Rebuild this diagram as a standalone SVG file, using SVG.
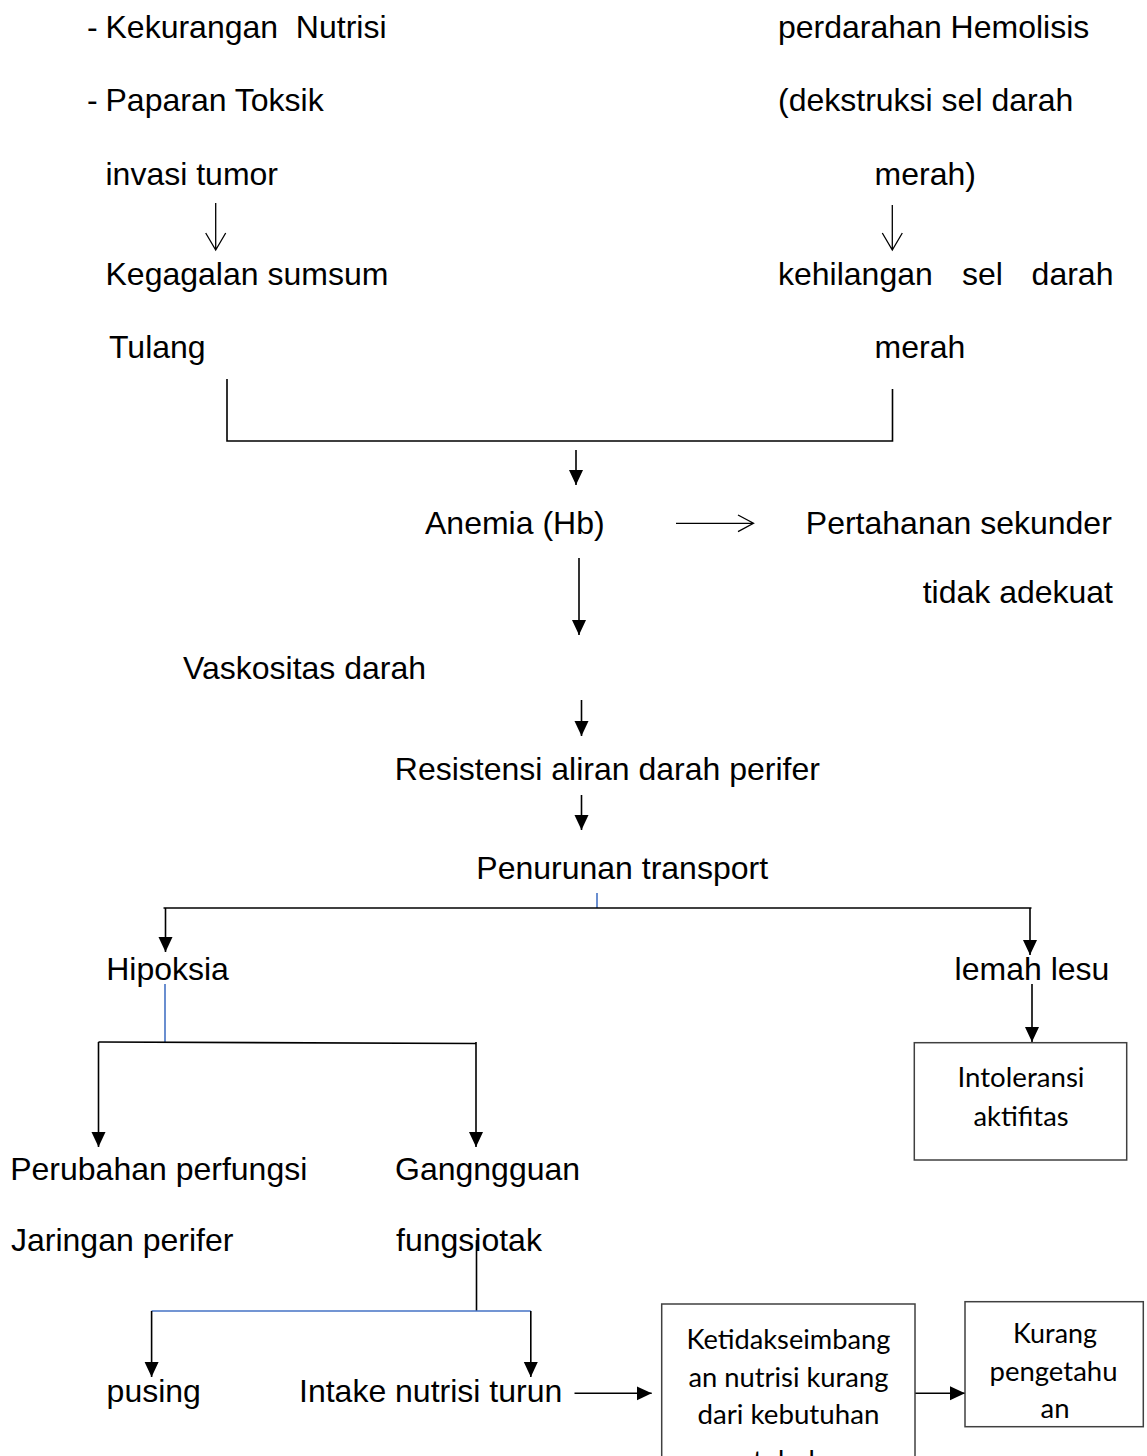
<svg xmlns="http://www.w3.org/2000/svg" width="1147" height="1456" viewBox="0 0 1147 1456">
<defs>
<style>
.t{font-family:"Liberation Sans",Arial,sans-serif;font-size:32px;fill:#000;white-space:pre}
.c{font-family:Lato,"Open Sans",sans-serif;font-size:27px;fill:#000;text-anchor:middle}
.ln{stroke:#000;stroke-width:1.6;fill:none}
.bl{stroke:#4472c4;stroke-width:1.6;fill:none}
.thin{stroke:#000;stroke-width:1.3;fill:none}
.box{stroke:#404040;stroke-width:1.5;fill:#fff}
</style>
<marker id="ah" markerUnits="userSpaceOnUse" markerWidth="16" markerHeight="16" refX="15" refY="7" orient="auto" viewBox="0 0 16 14">
<path d="M0,0 L15,7 L0,14 z" fill="#000"/>
</marker>
</defs>
<rect width="1147" height="1456" fill="#fff"/>

<g id="connectors">
<path class="thin" d="M215.7,203 V250 M205.7,233 L215.7,250 L225.7,233"/>
<path class="thin" d="M892.3,205 V250 M882.3,233 L892.3,250 L902.3,233"/>
<path class="ln" d="M227,379 V441 H892.5 V389"/>
<line class="ln" x1="576" y1="450" x2="576" y2="485" marker-end="url(#ah)"/>
<path class="thin" d="M676,523.3 H753.5 M738,515 L753.5,523.3 L738,531.6"/>
<line class="ln" x1="579" y1="558" x2="579" y2="635" marker-end="url(#ah)"/>
<line class="ln" x1="581.5" y1="700" x2="581.5" y2="736" marker-end="url(#ah)"/>
<line class="ln" x1="581.5" y1="795" x2="581.5" y2="830" marker-end="url(#ah)"/>
<line class="bl" x1="597" y1="893" x2="597" y2="908"/>
<line class="ln" x1="163.5" y1="908" x2="1031.5" y2="908"/>
<line class="ln" x1="165.5" y1="908" x2="165.5" y2="952" marker-end="url(#ah)"/>
<line class="ln" x1="1030" y1="908" x2="1030" y2="955" marker-end="url(#ah)"/>
<line class="ln" x1="1032" y1="984" x2="1032" y2="1042" marker-end="url(#ah)"/>
<line class="bl" x1="165" y1="984" x2="165" y2="1042"/>
<line class="ln" x1="98.5" y1="1042" x2="476" y2="1043.5"/>
<line class="ln" x1="98.5" y1="1042" x2="98.5" y2="1147" marker-end="url(#ah)"/>
<line class="ln" x1="476" y1="1042" x2="476" y2="1147" marker-end="url(#ah)"/>
<line class="ln" x1="476.5" y1="1240" x2="476.5" y2="1311"/>
<line class="bl" x1="151.6" y1="1311" x2="530.8" y2="1311"/>
<line class="ln" x1="151.6" y1="1311" x2="151.6" y2="1377" marker-end="url(#ah)"/>
<line class="ln" x1="530.8" y1="1311" x2="530.8" y2="1377" marker-end="url(#ah)"/>
<line class="ln" x1="574.5" y1="1393.3" x2="651.7" y2="1393.3" marker-end="url(#ah)"/>
<line class="ln" x1="915" y1="1393.3" x2="965" y2="1393.3" marker-end="url(#ah)"/>
</g>

<g id="n-kekurangan"><text class="t" x="87" y="38">-</text><text class="t" x="105.5" y="38">Kekurangan  Nutrisi</text></g>
<g id="n-paparan"><text class="t" x="87" y="111">-</text><text class="t" x="105.5" y="111">Paparan Toksik</text></g>
<g id="n-invasi"><text class="t" x="105.5" y="185">invasi tumor</text></g>
<g id="n-kegagalan"><text class="t" x="105.5" y="285">Kegagalan sumsum</text><text class="t" x="109" y="358">Tulang</text></g>
<g id="n-perdarahan"><text class="t" x="778" y="38">perdarahan Hemolisis</text><text class="t" x="778" y="111">(dekstruksi sel darah</text><text class="t" x="874.6" y="185">merah)</text></g>
<g id="n-kehilangan"><text class="t" y="285"><tspan x="778">kehilangan</tspan><tspan x="962">sel</tspan><tspan x="1031.6">darah</tspan></text><text class="t" x="874.6" y="358">merah</text></g>
<g id="n-anemia"><text class="t" x="425" y="534">Anemia (Hb)</text></g>
<g id="n-pertahanan"><text class="t" x="805.8" y="534">Pertahanan sekunder</text><text class="t" x="1113" y="603" text-anchor="end">tidak adekuat</text></g>
<g id="n-vaskositas"><text class="t" x="183" y="679">Vaskositas darah</text></g>
<g id="n-resistensi"><text class="t" x="394.8" y="780">Resistensi aliran darah perifer</text></g>
<g id="n-penurunan"><text class="t" x="476.3" y="879">Penurunan transport</text></g>
<g id="n-hipoksia"><text class="t" x="106.2" y="980">Hipoksia</text></g>
<g id="n-lemah"><text class="t" x="954.6" y="980">lemah lesu</text></g>
<g id="n-intoleransi"><rect class="box" x="914.3" y="1042.7" width="212.4" height="117.3"/><text class="c" x="1021" y="1087" textLength="127" lengthAdjust="spacingAndGlyphs">Intoleransi</text><text class="c" x="1021" y="1126" textLength="95" lengthAdjust="spacingAndGlyphs">aktifitas</text></g>
<g id="n-perubahan"><text class="t" x="10.2" y="1180">Perubahan perfungsi</text><text class="t" x="11" y="1251">Jaringan perifer</text></g>
<g id="n-gangguan"><text class="t" x="395" y="1180">Gangngguan</text><text class="t" x="396" y="1251">fungsiotak</text></g>
<g id="n-pusing"><text class="t" x="106.6" y="1402">pusing</text></g>
<g id="n-intake"><text class="t" x="299" y="1402">Intake nutrisi turun</text></g>
<g id="n-ketidak"><rect class="box" x="661.7" y="1304" width="253.3" height="170"/><text class="c" x="788.4" y="1349" textLength="204" lengthAdjust="spacingAndGlyphs">Ketidakseimbang</text><text class="c" x="788.4" y="1387" textLength="200" lengthAdjust="spacingAndGlyphs">an nutrisi kurang</text><text class="c" x="788.4" y="1424" textLength="182" lengthAdjust="spacingAndGlyphs">dari kebutuhan</text><text class="c" x="788.4" y="1470" textLength="71" lengthAdjust="spacingAndGlyphs">tubuh</text></g>
<g id="n-kurang"><rect class="box" x="965" y="1301.7" width="178.3" height="125"/><text class="c" x="1055" y="1343" textLength="84" lengthAdjust="spacingAndGlyphs">Kurang</text><text class="c" x="1053.5" y="1381" textLength="128" lengthAdjust="spacingAndGlyphs">pengetahu</text><text class="c" x="1055" y="1418" textLength="29" lengthAdjust="spacingAndGlyphs">an</text></g>
</svg>
